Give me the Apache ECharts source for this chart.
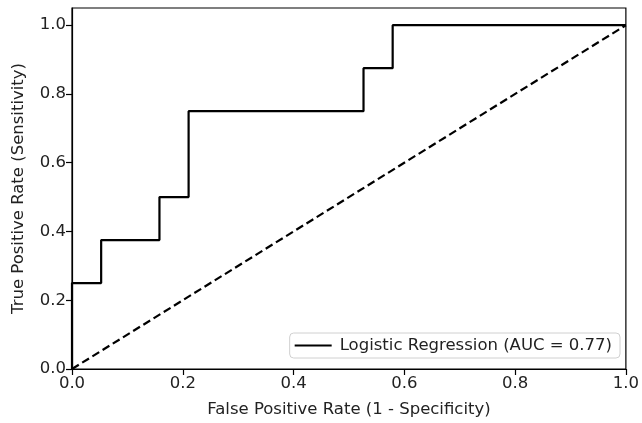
<!DOCTYPE html>
<html><head><meta charset="utf-8">
<script src="https://cdn.jsdelivr.net/npm/echarts@6/dist/echarts.min.js"></script>
<style>html,body{margin:0;padding:0;background:#fff}#c{width:642px;height:423px}</style>
</head><body><div id="c"></div>
<script>
const fpr = [0, 0, 1/19, 1/19, 3/19, 3/19, 4/19, 4/19, 10/19, 10/19, 11/19, 11/19, 1];
const tpr = [0, 0.25, 0.25, 0.375, 0.375, 0.5, 0.5, 0.75, 0.75, 0.875, 0.875, 1, 1];
const diagX = [0, 1];
const diagY = [0, 1];
const tickVals = [0, 0.2, 0.4, 0.6, 0.8, 1.0];
const seriesName = 'Logistic Regression (AUC = 0.77)';
const xTitle = 'False Positive Rate (1 - Specificity)';
const yTitle = 'True Positive Rate (Sensitivity)';

const font = 'DejaVu Sans';
const fs = 16.5;
const chart = echarts.init(document.getElementById('c'), null, {renderer: 'canvas'});
const axisCommon = {
  axisLine: {show: true, onZero: false, lineStyle: {color: '#000', width: 1.2}},
  axisTick: {show: true, length: 6, customValues: tickVals, lineStyle: {color: '#000', width: 1.2}},
  axisLabel: {customValues: tickVals, color: '#222', fontFamily: font, fontSize: fs, margin: 6,
    formatter: v => v.toFixed(1)},
  splitLine: {show: false},
  nameLocation: 'middle',
  nameTextStyle: {color: '#222', fontFamily: font, fontSize: fs}
};
chart.setOption({
  animation: false,
  grid: {left: 72, right: 14, top: 8, bottom: 54, show: true, borderColor: '#000', borderWidth: 1.2, backgroundColor: 'transparent'},
  xAxis: Object.assign({type: 'value', min: 0, max: 1, name: xTitle, nameGap: 32}, axisCommon),
  yAxis: Object.assign({type: 'value', min: 0, max: 1.05, name: yTitle, nameGap: 45}, axisCommon),
  legend: {
    right: 22, bottom: 65,
    data: [{name: seriesName, icon: 'path://M0,0 L40,0 L40,2 L0,2 Z'}],
    itemWidth: 37, itemHeight: 2, itemGap: 10,
    backgroundColor: '#fff', borderColor: '#d0d0d0', borderWidth: 1, borderRadius: 4,
    padding: [4, 8, 4, 5],
    textStyle: {color: '#222', fontFamily: font, fontSize: fs, padding: [0, 0, 0, 3]}
  },
  series: [
    {name: seriesName, type: 'line', showSymbol: false, symbol: 'none',
     data: fpr.map((x, i) => [x, tpr[i]]),
     lineStyle: {color: '#000', width: 2.2}, itemStyle: {color: '#000'}, z: 3},
    {name: 'diag', type: 'line', showSymbol: false, symbol: 'none',
     data: diagX.map((x, i) => [x, diagY[i]]),
     lineStyle: {color: '#000', width: 2.2, type: [8, 4]}, z: 2}
  ]
});
</script></body></html>
